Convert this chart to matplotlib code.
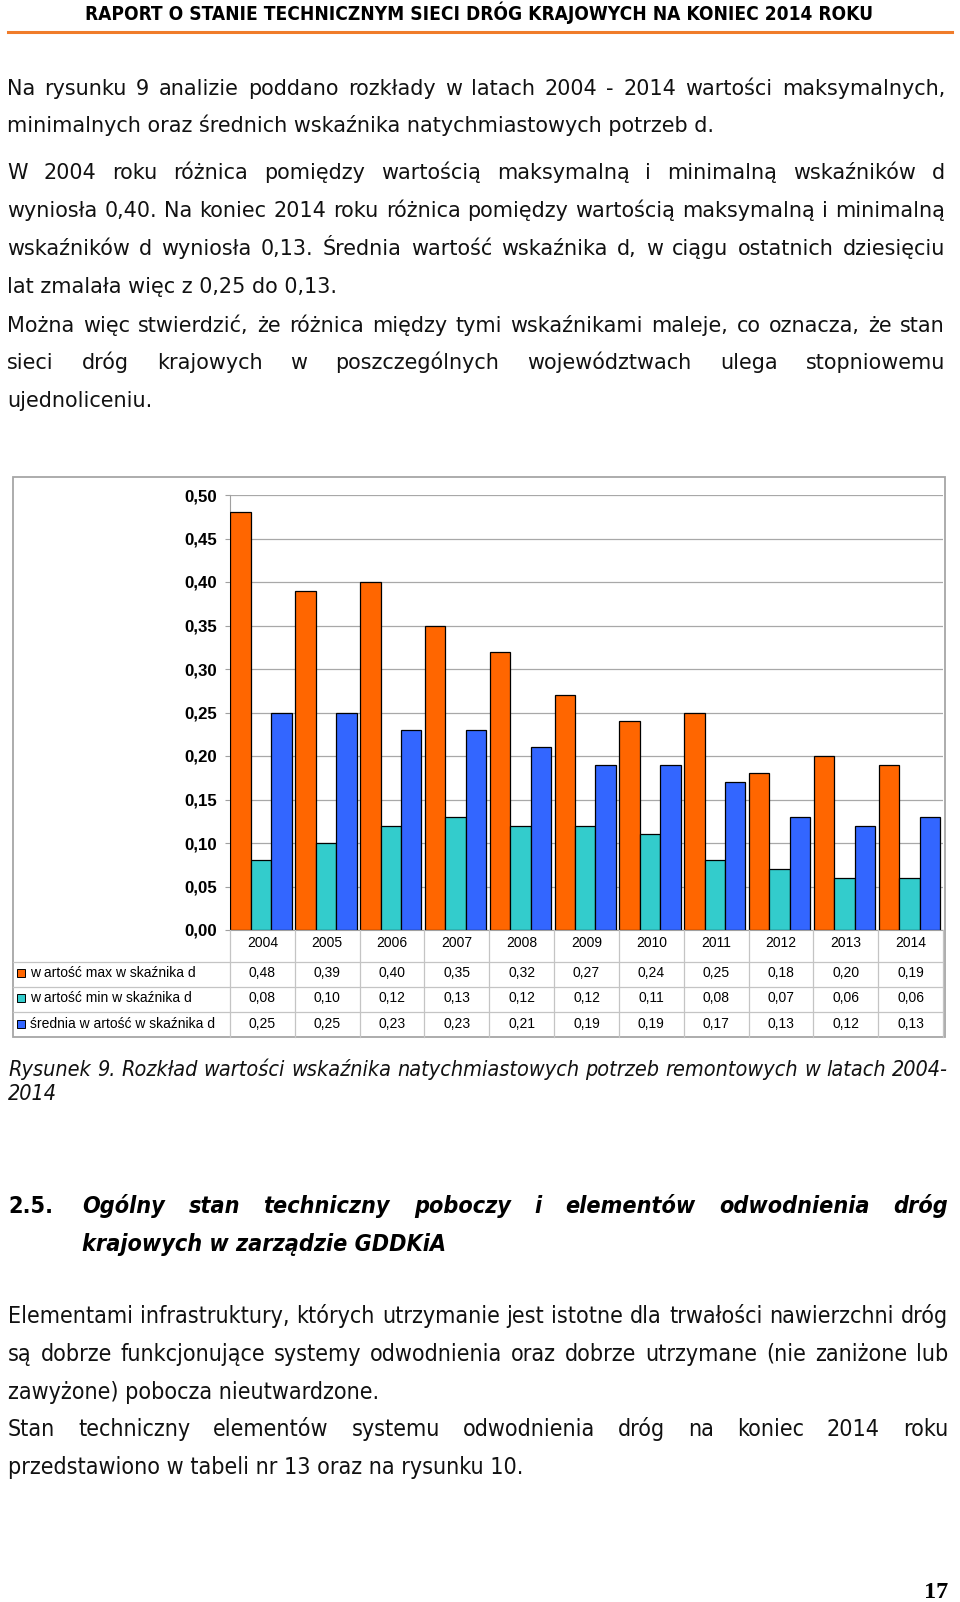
import matplotlib
matplotlib.use('Agg')
import matplotlib.pyplot as plt
from matplotlib import font_manager
from matplotlib.patches import Rectangle
from matplotlib.lines import Line2D
from matplotlib.transforms import blended_transform_factory
import numpy as np

# ---------------- data ----------------
years = ['2004', '2005', '2006', '2007', '2008', '2009', '2010', '2011', '2012', '2013', '2014']
max_vals = [0.48, 0.39, 0.40, 0.35, 0.32, 0.27, 0.24, 0.25, 0.18, 0.20, 0.19]
min_vals = [0.08, 0.10, 0.12, 0.13, 0.12, 0.12, 0.11, 0.08, 0.07, 0.06, 0.06]
mean_vals = [0.25, 0.25, 0.23, 0.23, 0.21, 0.19, 0.19, 0.17, 0.13, 0.12, 0.13]
series_labels = ['w artość max w skaźnika d', 'w artość min w skaźnika d',
                 'średnia w artość w skaźnika d']
series_colors = ['#FF6600', '#33CCCC', '#3366FF']
y_ticks = [0.00, 0.05, 0.10, 0.15, 0.20, 0.25, 0.30, 0.35, 0.40, 0.45, 0.50]

header = 'RAPORT O STANIE TECHNICZNYM SIECI DRÓG KRAJOWYCH NA KONIEC 2014 ROKU'
para1 = [
    ('Na rysunku 9 analizie poddano rozkłady w latach 2004 - 2014 wartości maksymalnych,', True),
    ('minimalnych oraz średnich wskaźnika natychmiastowych potrzeb d.', False),
    ('W 2004 roku różnica pomiędzy wartością maksymalną i minimalną wskaźników d', True),
    ('wyniosła 0,40. Na koniec 2014 roku różnica pomiędzy wartością maksymalną i minimalną', True),
    ('wskaźników d wyniosła 0,13. Średnia wartość wskaźnika d, w ciągu ostatnich dziesięciu', True),
    ('lat zmalała więc z 0,25 do 0,13.', False),
    ('Można więc stwierdzić, że różnica między tymi wskaźnikami maleje, co oznacza, że stan', True),
    ('sieci dróg krajowych w poszczególnych województwach ulega stopniowemu', True),
    ('ujednoliceniu.', False),
]
caption = ['Rysunek 9. Rozkład wartości wskaźnika natychmiastowych potrzeb remontowych w latach 2004-',
           '2014']
heading_num = '2.5.'
heading = ['Ogólny stan techniczny poboczy i elementów odwodnienia dróg',
           'krajowych w zarządzie GDDKiA']
para2 = [
    ('Elementami infrastruktury, których utrzymanie jest istotne dla trwałości nawierzchni dróg', True),
    ('są dobrze funkcjonujące systemy odwodnienia oraz dobrze utrzymane (nie zaniżone lub', True),
    ('zawyżone) pobocza nieutwardzone.', False),
    ('Stan techniczny elementów systemu odwodnienia dróg na koniec 2014 roku', True),
    ('przedstawiono w tabeli nr 13 oraz na rysunku 10.', False),
]
page_no = '17'

# ---------------- figure ----------------
W, H = 960, 1602
fig = plt.figure(figsize=(W / 100, H / 100), dpi=100)
fig.patch.set_facecolor('white')
renderer = fig.canvas.get_renderer()


def fx(x):
    return x / W


def fy(y):
    return 1 - y / H


names = {f.name for f in font_manager.fontManager.ttflist}
if 'Liberation Sans Narrow' in names:
    NARROW = dict(family='Liberation Sans Narrow')
else:
    NARROW = dict(family='DejaVu Sans', fontstretch='condensed')
VERDANA = dict(family='DejaVu Sans')
ARIAL = dict(family='Liberation Sans')


def text_width(s, **kw):
    t = fig.text(0, 0, s, **kw)
    w = t.get_window_extent(renderer).width
    t.remove()
    return w


def fit_size(s, target, **kw):
    w = text_width(s, fontsize=10, **kw)
    return 10 * target / w


def draw_line(s, x0, x1, cy, size, justify, k=0.33, **kw):
    em = size * 100 / 72
    base = cy + k * em
    if not justify:
        fig.text(fx(x0), fy(base), s, ha='left', va='baseline', fontsize=size, **kw)
        return
    words = s.split()
    widths = [text_width(w, fontsize=size, **kw) for w in words]
    gap = (x1 - x0 - sum(widths)) / max(len(words) - 1, 1)
    x = x0
    for w, wd in zip(words, widths):
        fig.text(fx(x), fy(base), w, ha='left', va='baseline', fontsize=size, **kw)
        x += wd + gap


# header
hs = fit_size(header, 782, fontweight='bold', **NARROW)
fig.text(fx(479), fy(13 + 0.36 * hs * 100 / 72), header, ha='center', va='baseline',
         fontsize=hs, fontweight='bold', **NARROW)
fig.add_artist(Line2D([fx(8), fx(952)], [fy(32), fy(32)], color='#F07C2A', lw=2.2))

# upper paragraph
ps = fit_size(para1[1][0], 708, **VERDANA)
p1_y = [87.8, 125.6, 172.6, 210.4, 248.2, 286.0, 324.8, 362.6, 400.3]
for (s, j), cy in zip(para1, p1_y):
    draw_line(s, 7, 945, cy, ps, j, color='#111111', **VERDANA)

# ---------------- chart ----------------
x0_px, x1_px, ytop_px, ybot_px = 230, 943, 495, 930
ax = fig.add_axes([fx(x0_px), fy(ybot_px), (x1_px - x0_px) / W, (ybot_px - ytop_px) / H])
x = np.arange(len(years))
bw = 0.315
for off, vals, col in zip([-bw, 0, bw], [max_vals, min_vals, mean_vals], series_colors):
    ax.bar(x + off - 0.02, vals, bw, color=col, edgecolor='black', linewidth=0.9, zorder=3)
ax.set_xlim(-0.5, len(years) - 0.5)
ax.set_ylim(0, 0.5)
ax.set_yticks(y_ticks)
ax.set_yticklabels([f'{v:.2f}'.replace('.', ',') for v in y_ticks],
                   fontweight='bold', fontsize=fit_size('0,50', 33, fontweight='bold', **ARIAL),
                   **ARIAL)
ax.yaxis.grid(True, color='#A8A8A8', lw=0.9)
ax.set_axisbelow(True)
for sp in ['top', 'right']:
    ax.spines[sp].set_visible(False)
ax.spines['left'].set_color('#A0A0A0')
ax.spines['bottom'].set_color('#A0A0A0')
ax.tick_params(axis='y', length=3.6, width=0.8, color='#A0A0A0', pad=5.8, labelcolor='black')
ax.tick_params(axis='x', bottom=False, labelbottom=False)

# ---------------- data table ----------------
trans = blended_transform_factory(ax.transData, fig.transFigure)
grid_c = '#C4C4C4'
for i in range(len(years) + 1):
    xv = i - 0.5
    fig.add_artist(Line2D([xv, xv], [fy(930), fy(1037)], transform=trans, color=grid_c, lw=0.9))
for yl in [962, 987, 1012]:
    fig.add_artist(Line2D([fx(13), fx(943)], [fy(yl), fy(yl)], color=grid_c, lw=0.9))

for i, yr in enumerate(years):
    fig.text(i, fy(943), yr, transform=trans, ha='center', va='center', fontsize=10, **ARIAL)

row_y = [973, 998, 1024]
for vals, lab, col, ry in zip([max_vals, min_vals, mean_vals], series_labels, series_colors, row_y):
    for i, v in enumerate(vals):
        fig.text(i, fy(ry), f'{v:.2f}'.replace('.', ','), transform=trans,
                 ha='center', va='center', fontsize=10, **ARIAL)
    fig.add_artist(Rectangle((fx(17), fy(ry + 4)), 8 / W, 8 / H, facecolor=col,
                             edgecolor='black', lw=0.7))
    fig.text(fx(30), fy(ry), lab, ha='left', va='center', fontsize=10, **ARIAL)

# chart frame
fig.add_artist(Rectangle((fx(13), fy(1037)), (945 - 13) / W, (1037 - 477) / H, fill=False,
                         edgecolor='#A6A6A6', lw=1.3))

# ---------------- caption ----------------
cs = fit_size(caption[0], 940, fontstyle='italic', **NARROW)
draw_line(caption[0], 8, 948, 1069, cs, True, fontstyle='italic', color='#111111', **NARROW)
draw_line(caption[1], 8, 948, 1093, cs, False, fontstyle='italic', color='#111111', **NARROW)

# ---------------- heading ----------------
hs2 = fit_size(heading[1], 363, fontweight='bold', fontstyle='italic', **NARROW)
draw_line(heading_num, 8, 70, 1205, hs2, False, fontweight='bold', **NARROW)
draw_line(heading[0], 82, 948, 1205, hs2, True, fontweight='bold', fontstyle='italic', **NARROW)
draw_line(heading[1], 82, 948, 1243, hs2, False, fontweight='bold', fontstyle='italic', **NARROW)

# ---------------- lower paragraph ----------------
s_a = fit_size(para2[2][0], 369, **NARROW)
s_b = fit_size(para2[4][0], 518, **NARROW)
ps2 = (s_a + s_b) / 2
p2_y = [1315.5, 1353.3, 1391.0, 1428.8, 1466.6]
for (s, j), cy in zip(para2, p2_y):
    draw_line(s, 8, 948, cy, ps2, j, color='#111111', **NARROW)

# page number
pn = fit_size(page_no, 24, fontweight='bold', family='Liberation Serif')
fig.text(fx(948), fy(1590 + 0.35 * pn * 100 / 72), page_no, ha='right', va='baseline',
         fontsize=pn, fontweight='bold', family='Liberation Serif')

fig.savefig('out.png', dpi=100, facecolor='white')
